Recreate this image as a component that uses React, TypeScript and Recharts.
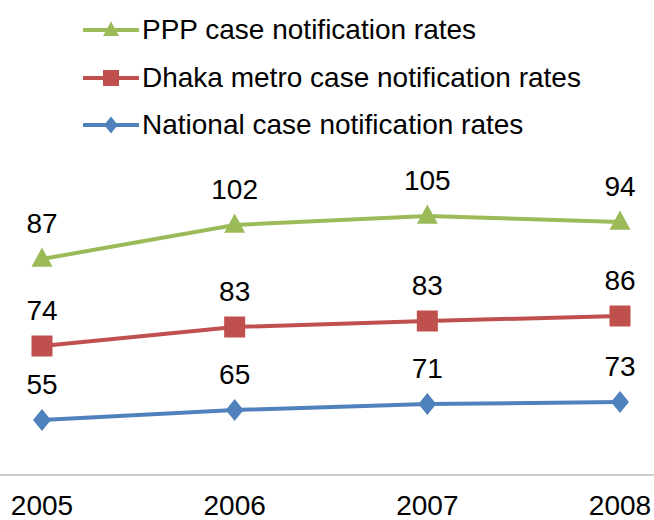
import { Legend, LabelList, Line, LineChart, XAxis, YAxis } from 'recharts';

const years = ['2005', '2006', '2007', '2008'];
const national = [55, 65, 71, 73];
const dhaka = [74, 83, 83, 86];
const ppp = [87, 102, 105, 94];

const FONT = '"Liberation Sans", Arial, sans-serif';

// The lines are stacked: each series sits on top of the ones below it.
// Recharts only stacks areas and bars, so the running totals are built here.
const chartData = years.map((year, i) => ({
  year,
  national: national[i],
  dhaka: dhaka[i],
  ppp: ppp[i],
  nationalTop: national[i],
  dhakaTop: national[i] + dhaka[i],
  pppTop: national[i] + dhaka[i] + ppp[i],
}));

type Shape = 'triangle' | 'square' | 'diamond';

const series: { key: string; name: string; color: string; shape: Shape }[] = [
  { key: 'national', name: 'National case notification rates', color: '#4f81bd', shape: 'diamond' },
  { key: 'dhaka', name: 'Dhaka metro case notification rates', color: '#c0504d', shape: 'square' },
  { key: 'ppp', name: 'PPP case notification rates', color: '#9bbb59', shape: 'triangle' },
];

const marker = (shape: Shape, cx: number, cy: number, s: number, color: string) => {
  if (shape === 'triangle') {
    const h = s * 0.92;
    return (
      <polygon
        points={`${cx},${cy - h * 0.6} ${cx + s / 2},${cy + h * 0.4} ${cx - s / 2},${cy + h * 0.4}`}
        fill={color}
      />
    );
  }
  if (shape === 'square') {
    return <rect x={cx - s / 2} y={cy - s / 2} width={s} height={s} fill={color} />;
  }
  const w = s * 0.85;
  const h = s * 1.05;
  return (
    <polygon
      points={`${cx},${cy - h / 2} ${cx + w / 2},${cy} ${cx},${cy + h / 2} ${cx - w / 2},${cy}`}
      fill={color}
    />
  );
};

const makeDot = (shape: Shape, color: string) => (props: any) => {
  const { cx, cy, index } = props;
  if (cx == null || cy == null) return <g key={index} />;
  return <g key={index}>{marker(shape, cx, cy, 21, color)}</g>;
};

const ValueLabel = (props: any) => {
  const { x, y, value } = props;
  return (
    <text
      x={x}
      y={y - 36}
      textAnchor="middle"
      dominantBaseline="central"
      fontSize={28}
      fontFamily={FONT}
      fill="#000"
    >
      {value}
    </text>
  );
};

const legendRows = [...series].reverse();

const ChartLegend = () => (
  <div style={{ position: 'relative', width: 654, height: 150 }}>
    {legendRows.map((s, i) => (
      <div
        key={s.key}
        style={{
          position: 'absolute',
          left: 83,
          top: [30, 78, 125][i] - 17,
          height: 34,
          display: 'flex',
          alignItems: 'center',
        }}
      >
        <svg width={56} height={34} style={{ display: 'block' }}>
          <line x1={1} y1={17} x2={55} y2={17} stroke={s.color} strokeWidth={4} strokeLinecap="round" />
          {marker(s.shape, 28, 17, 16, s.color)}
        </svg>
        <span
          style={{
            marginLeft: 3,
            fontFamily: FONT,
            fontSize: 28,
            color: '#000',
            whiteSpace: 'nowrap',
            lineHeight: '34px',
          }}
        >
          {s.name}
        </span>
      </div>
    ))}
  </div>
);

const App = () => (
  <div style={{ position: 'absolute', left: 0, top: 0, width: 654, height: 520, background: '#fff' }}>
    <LineChart
      width={654}
      height={520}
      data={chartData}
      margin={{ top: 25, right: 0, bottom: 0, left: 0 }}
    >
      <Legend
        verticalAlign="top"
        content={() => <ChartLegend />}
        wrapperStyle={{ top: 0, left: 0, width: 654, height: 150 }}
      />
      <XAxis
        dataKey="year"
        height={45}
        padding={{ left: 42, right: 34 }}
        axisLine={{ stroke: '#bfbfbf', strokeWidth: 1.5 }}
        tickLine={false}
        tickMargin={14}
        tick={{ fontSize: 28, fill: '#000', fontFamily: FONT }}
        interval={0}
      />
      <YAxis hide domain={[0, 300]} />
      {series.map((s) => (
        <Line
          key={s.key}
          type="linear"
          dataKey={`${s.key}Top`}
          name={s.name}
          stroke={s.color}
          strokeWidth={4}
          dot={makeDot(s.shape, s.color)}
          activeDot={false}
          isAnimationActive={false}
        >
          <LabelList dataKey={s.key} content={ValueLabel} />
        </Line>
      ))}
    </LineChart>
  </div>
);

export default App;
